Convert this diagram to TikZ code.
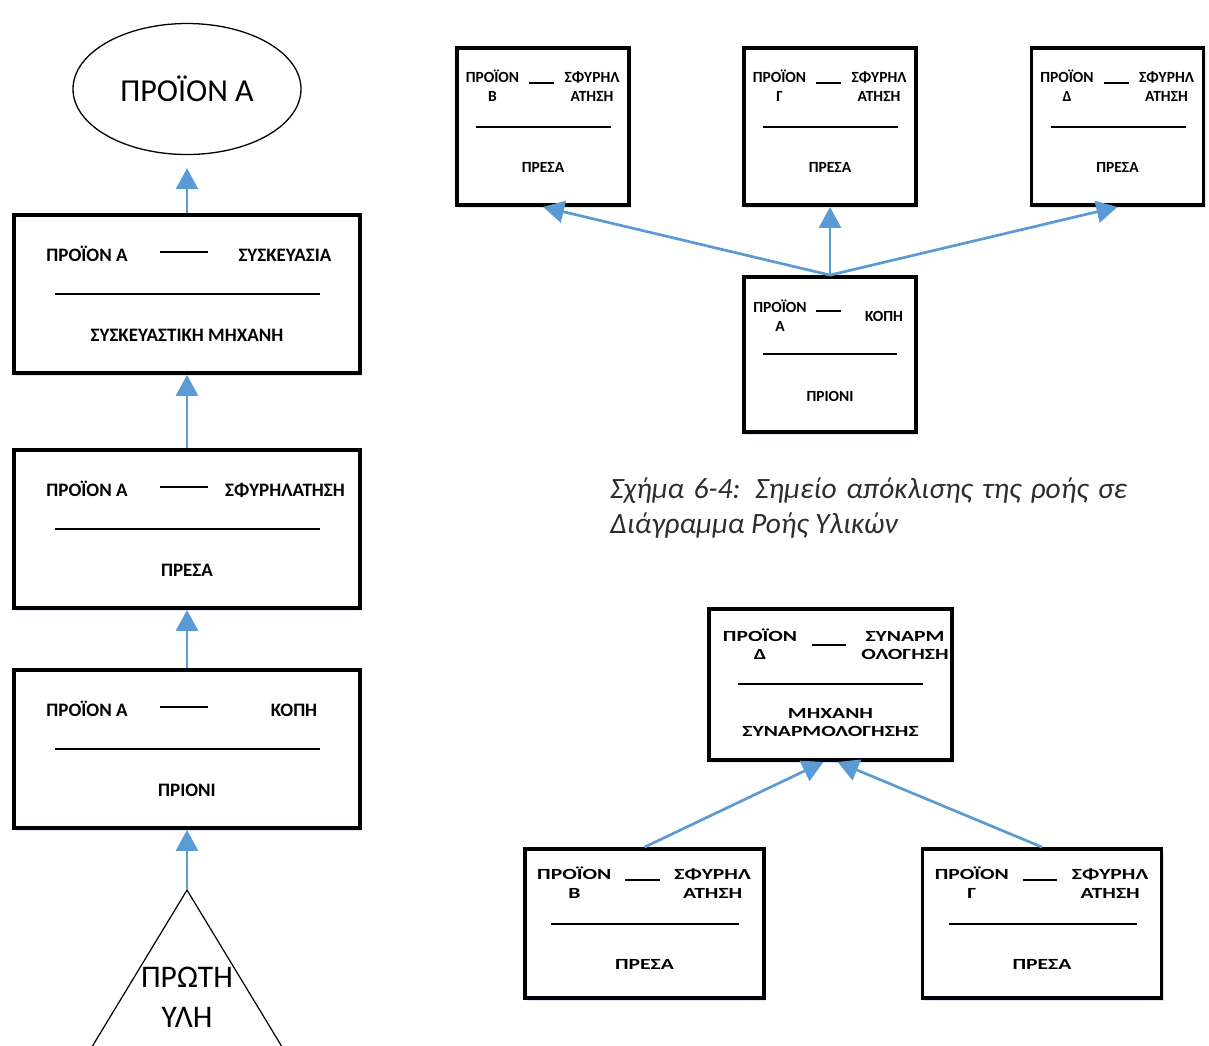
\documentclass[tikz,border=0pt]{standalone}
\usepackage{fontspec}
\setmainfont{Carlito}
\usetikzlibrary{arrows.meta,shapes.geometric,shadows}
\definecolor{flowblue}{RGB}{91,155,213}
\definecolor{glow}{RGB}{218,229,243}
\definecolor{captiongray}{RGB}{45,45,45}

\tikzset{
  stagebox/.style={draw=black, line width=3.8pt, fill=white, inner sep=0pt,
    drop shadow={shadow xshift=2pt, shadow yshift=-3pt, fill=glow, opacity=0.9}},
  rule/.style={line width=2.5pt},
  flow/.style={draw=flowblue, line width=2.7pt, -{Triangle[length=21pt,width=22pt]}},
  bigtxt/.style={font=\fontsize{19}{23}\bfseries, inner sep=0pt, anchor=base},
  smalltxt/.style={font=\fontsize{15.5}{18}\bfseries, inner sep=0pt, anchor=base},
}

% large process step of the left chain: name, centre y, x of operation, operation, machine
\newcommand\majorstage[5]{%
  \node[stagebox, minimum width=346pt, minimum height=158pt] (#1) at (187,#2) {};
  \node[bigtxt] (#1-prod) at (87,#2-32.5) {ΠΡΟΪΟΝ Α};
  \node[bigtxt] (#1-op) at (#3,#2-32.5) {#4};
  \draw[rule] (160,#2-42) -- (208,#2-42);
  \draw[rule] (55,#2) -- (320,#2);
  \node[bigtxt] (#1-mach) at (187,#2+47.5) {#5};
}

% small process step: name, centre x, centre y, horizontal stretch, product (2 lines), operation (2 lines), machine
\def\minorh{157}
\newcommand\minorstage[9]{%
  \node[stagebox, minimum width=#4*172pt, minimum height=\minorh*1pt] (#1) at (#2,#3) {};
  \node[smalltxt] (#1-p1) at (#2-#4*50.5,#3-44) {\scalebox{#4}[1]{#5}};
  \node[smalltxt] (#1-p2) at (#2-#4*50.5,#3-25.5) {\scalebox{#4}[1]{#6}};
  \node[smalltxt] (#1-o1) at (#2+#4*49,#3-44) {\scalebox{#4}[1]{#7}};
  \node[smalltxt] (#1-o2) at (#2+#4*49,#3-25.5) {\scalebox{#4}[1]{#8}};
  \draw[rule] (#2-#4*14,#3-43.5) -- (#2+#4*11,#3-43.5);
  \draw[rule] (#2-#4*67,#3+0.5) -- (#2+#4*68,#3+0.5);
  \node[smalltxt] (#1-m) at (#2,#3+45.5) {\scalebox{#4}[1]{#9}};
}

\begin{document}
\begin{tikzpicture}[x=1pt,y=-1pt]
\fill[white] (0,0) rectangle (1209,1045);
\useasboundingbox (0,0) rectangle (1209,1045);

% ---------- left chain: raw material -> product A ----------
\node[draw, ellipse, line width=1.3pt, minimum width=228pt, minimum height=131pt,
      inner sep=0pt, font=\fontsize{32}{38}\selectfont] (prodA) at (187,89) {ΠΡΟΪΟΝ Α};

\majorstage{pack}{294}{285}{ΣΥΣΚΕΥΑΣΙΑ}{ΣΥΣΚΕΥΑΣΤΙΚΗ ΜΗΧΑΝΗ}
\majorstage{forge}{529}{285}{ΣΦΥΡΗΛΑΤΗΣΗ}{ΠΡΕΣΑ}
\majorstage{cut}{749}{294}{ΚΟΠΗ}{ΠΡΙΟΝΙ}

\coordinate (raw) at (187,890);
\draw[line width=1.2pt] (84,1060) -- (raw) -- (290,1060);
\node[font=\fontsize{31.5}{40}\selectfont, align=center, inner sep=0pt] (rawtxt) at (187,997) {ΠΡΩΤΗ\\ΥΛΗ};

\draw[flow, shorten >=13pt] (pack.north) -- (prodA.south);
\draw[flow] (forge.north) -- (pack.south);
\draw[flow] (cut.north) -- (forge.south);
\draw[flow] (raw) -- (cut.south);

% ---------- divergence point: one cut part feeds three presses ----------
\minorstage{presB}{543}{126.5}{1}{ΠΡΟΪΟΝ}{Β}{ΣΦΥΡΗΛ}{ΑΤΗΣΗ}{ΠΡΕΣΑ}
\minorstage{presG}{830}{126.5}{1}{ΠΡΟΪΟΝ}{Γ}{ΣΦΥΡΗΛ}{ΑΤΗΣΗ}{ΠΡΕΣΑ}
\minorstage{presD}{1117.5}{126.5}{1}{ΠΡΟΪΟΝ}{Δ}{ΣΦΥΡΗΛ}{ΑΤΗΣΗ}{ΠΡΕΣΑ}

\node[stagebox, minimum width=172pt, minimum height=155pt] (saw) at (830,354.5) {};
\node[smalltxt] (saw-p1) at (780,312) {ΠΡΟΪΟΝ};
\node[smalltxt] (saw-p2) at (780,331) {Α};
\draw[rule] (816,311) -- (841,311);
\node[smalltxt] (saw-o) at (884,321) {ΚΟΠΗ};
\draw[rule] (763,354) -- (897,354);
\node[smalltxt] (saw-m) at (830,401) {ΠΡΙΟΝΙ};

\draw[flow] (saw.north) -- (presB.south);
\draw[flow] (saw.north) -- (presG.south);
\draw[flow] (saw.north) -- (presD.south);

\node[font=\fontsize{29.5}{36}\itshape, text=captiongray, anchor=base west, inner sep=0pt] (cap1)
  at (610,498) {\makebox[517pt][s]{Σχήμα 6-4: Σημείο απόκλισης της ροής σε}};
\node[font=\fontsize{29.5}{36}\itshape, text=captiongray, anchor=base west, inner sep=0pt] (cap2)
  at (610,533) {Διάγραμμα Ροής Υλικών};

% ---------- convergence point: two pressed parts are assembled ----------
\node[stagebox, minimum width=243pt, minimum height=151pt] (asm) at (830.5,684.5) {};
\node[smalltxt] (asm-p1) at (760,641) {\scalebox{1.39}[1]{ΠΡΟΪΟΝ}};
\node[smalltxt] (asm-p2) at (760,659) {\scalebox{1.39}[1]{Δ}};
\node[smalltxt] (asm-o1) at (905,641) {\scalebox{1.39}[1]{ΣΥΝΑΡΜ}};
\node[smalltxt] (asm-o2) at (905,659) {\scalebox{1.39}[1]{ΟΛΟΓΗΣΗ}};
\draw[rule] (812,645) -- (846,645);
\draw[rule] (738,684) -- (923,684);
\node[smalltxt] (asm-m1) at (830.5,718) {\scalebox{1.39}[1]{ΜΗΧΑΝΗ}};
\node[smalltxt] (asm-m2) at (830.5,736) {\scalebox{1.39}[1]{ΣΥΝΑΡΜΟΛΟΓΗΣΗΣ}};

\def\minorh{149}
\minorstage{presB2}{644.5}{923.5}{1.39}{ΠΡΟΪΟΝ}{Β}{ΣΦΥΡΗΛ}{ΑΤΗΣΗ}{ΠΡΕΣΑ}
\minorstage{presG2}{1042}{923.5}{1.39}{ΠΡΟΪΟΝ}{Γ}{ΣΦΥΡΗΛ}{ΑΤΗΣΗ}{ΠΡΕΣΑ}

\draw[flow] (presB2.north) -- ([xshift=-7pt]asm.south);
\draw[flow] (presG2.north) -- ([xshift=7pt]asm.south);
\end{tikzpicture}
\end{document}
